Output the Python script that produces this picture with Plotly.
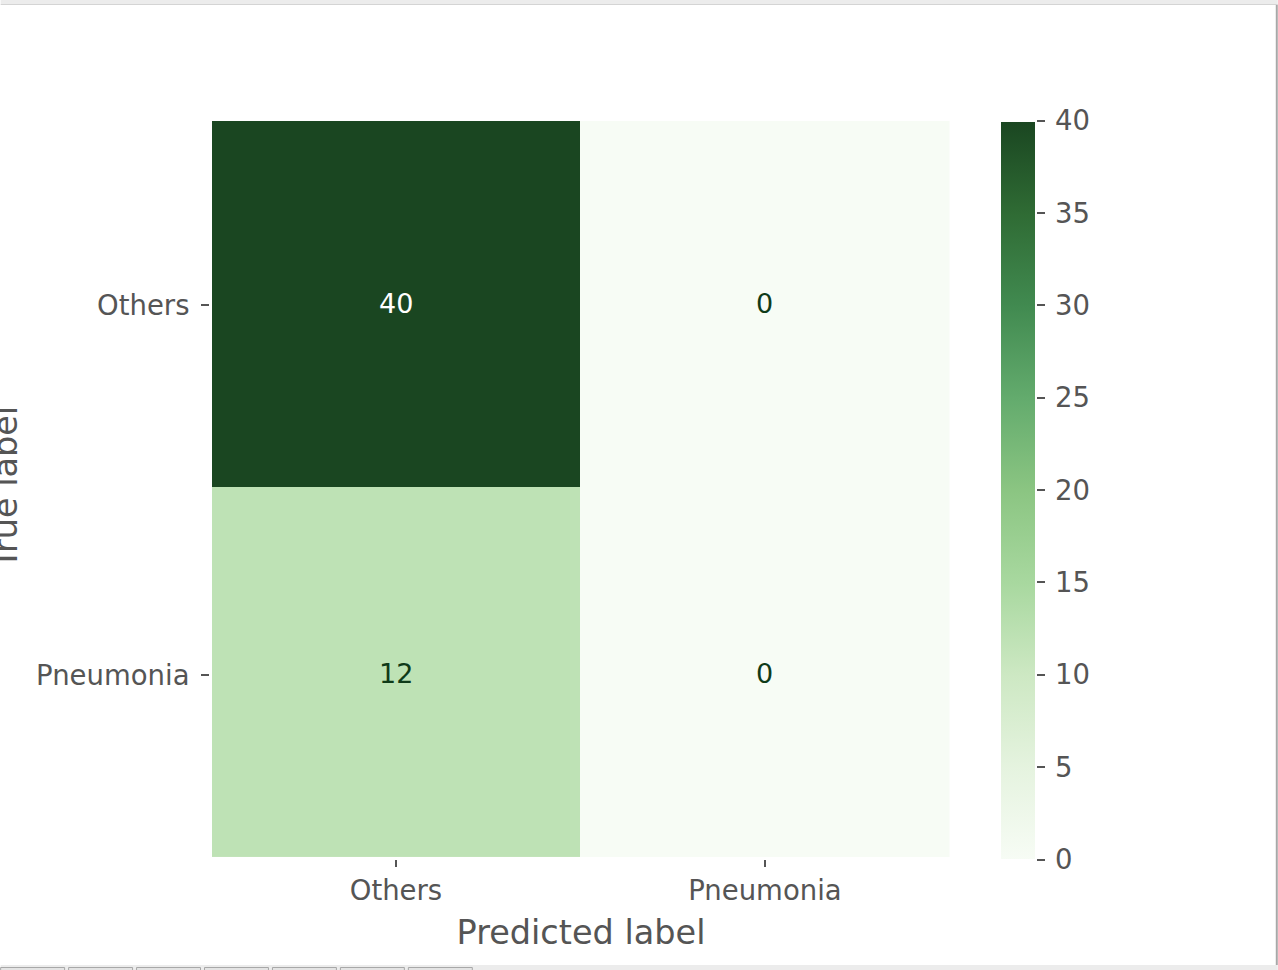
import plotly.graph_objects as go

predicted_labels = ["Others", "Pneumonia"]
true_labels = ["Others", "Pneumonia"]
row_others = [40, 0]
row_pneumonia = [12, 0]
colorbar_ticks = [0, 5, 10, 15, 20, 25, 30, 35, 40]
greens = ["#f7fcf5", "#e5f3df", "#cde8c3", "#a8d89f", "#8bc582", "#63ab6d", "#418a50", "#2f6b34", "#1a4621"]

W, H = 1278, 970
L, R, T, B = 211.5, 950, 121, 857
GREY = "#555555"
FONT = "DejaVu Sans"

z = [row_others, row_pneumonia]
x_pos = list(range(len(predicted_labels)))
y_pos = list(range(len(true_labels)))

fig = go.Figure(go.Heatmap(
    z=z, x=x_pos, y=y_pos,
    zmin=0, zmax=40,
    colorscale=[[i / (len(greens) - 1), c] for i, c in enumerate(greens)],
    colorbar=dict(
        lenmode="pixels", len=739, thicknessmode="pixels", thickness=36,
        x=(1000 - L) / (R - L), xanchor="left", xpad=0,
        y=(B - 120.5) / (B - T), yanchor="top", ypad=0,
        tickmode="array", tickvals=colorbar_ticks,
        ticks="outside", ticklen=8, tickwidth=1.5, tickcolor=GREY,
        outlinewidth=2, outlinecolor="white", borderwidth=0,
        tickfont=dict(family=FONT, size=27.5, color=GREY),
    ),
))

for r, row in enumerate(z):
    for c, v in enumerate(row):
        fig.add_annotation(
            x=x_pos[c], y=y_pos[r], text=str(v), showarrow=False,
            yshift=-2,
            font=dict(family=FONT, size=27, color="#ffffff" if v > 20 else "#0f3a18"),
        )

# Window chrome surrounding the chart in the reference
def px(x): return (x - L) / (R - L)
def py(y): return (B - y) / (B - T)
def rect(x0, y0, x1, y1, fill, line=None):
    fig.add_shape(type="rect", xref="paper", yref="paper", layer="above",
                  x0=px(x0), x1=px(x1), y0=py(y0), y1=py(y1), fillcolor=fill,
                  line=dict(color=line or fill, width=1 if line else 0))

rect(0, 0, W, 4, "#ececec")
rect(0, 4, W, 5, "#d4d4d4")
rect(0, 965, W, H, "#ececec")
rect(1276, 5, 1278, 965, "#a8a8a8")
for i in range(7):
    rect(68 * i, 967.5, 68 * i + 64, H + 3, "#e4e4e4", "#a8a8a8")

# The y title runs off the left edge of the frame in the reference
fig.add_annotation(
    text="True label", textangle=-90, showarrow=False,
    xref="paper", yref="paper", x=px(4), y=py(488),
    xanchor="center", yanchor="middle",
    font=dict(family=FONT, size=33.5, color=GREY),
)

fig.update_layout(
    width=W, height=H,
    margin=dict(l=L, r=W - R, t=T, b=H - B, autoexpand=False),
    paper_bgcolor="white", plot_bgcolor="white",
    font=dict(family=FONT, color=GREY),
    xaxis=dict(
        title=dict(text="Predicted label", font=dict(family=FONT, size=33.5, color=GREY), standoff=16),
        tickmode="array", tickvals=x_pos, ticktext=predicted_labels,
        range=[-0.4985, 1.5015],
        ticks="outside", ticklen=7, tickwidth=1.5, tickcolor=GREY,
        showline=True, linecolor="white", linewidth=3,
        tickfont=dict(family=FONT, size=27.5, color=GREY), showgrid=False, zeroline=False, automargin=False,
    ),
    yaxis=dict(
        tickmode="array", tickvals=[p + 0.008 for p in y_pos], ticktext=true_labels,
        range=[1.5, -0.489],
        ticks="outside", ticklen=8, tickwidth=1.5, tickcolor=GREY, ticklabelstandoff=6,
        showline=True, linecolor="white", linewidth=3,
        tickfont=dict(family=FONT, size=27.5, color=GREY), showgrid=False, zeroline=False, automargin=False,
    ),
)

page_js = (
    "document.body.style.margin='0';"
    "document.documentElement.style.overflow='hidden';"
    "var s=document.createElement('style');"
    "s.textContent='.colorbar g[class$=\"tick\"]{transform:translateX(5px)}';"
    "document.head.appendChild(s);"
)
fig.write_html("out.html", config={"displayModeBar": False}, post_script=page_js)
